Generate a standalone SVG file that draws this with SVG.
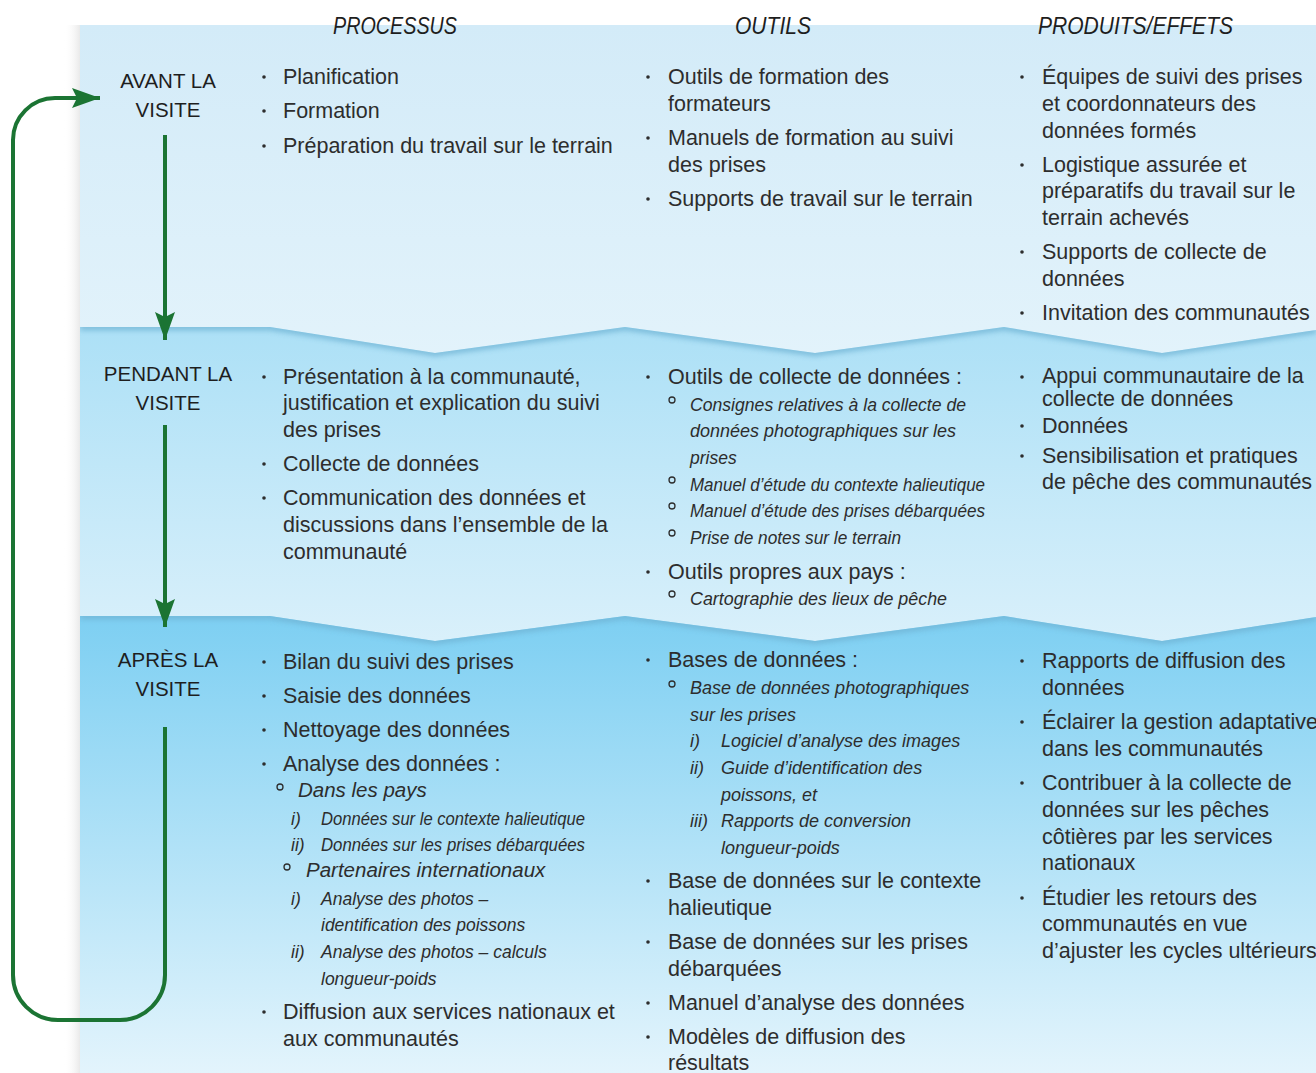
<svg xmlns="http://www.w3.org/2000/svg" width="1316" height="1073" viewBox="0 0 1316 1073">
<defs>
<style>
.t{font-family:"Liberation Sans",Arial,sans-serif;font-size:21.5px;fill:#2d2d2d}
.s{font-family:"Liberation Sans",Arial,sans-serif;font-size:17.5px;font-style:italic;fill:#2d2d2d}
.m{font-family:"Liberation Sans",Arial,sans-serif;font-size:20.5px;font-style:italic;fill:#2d2d2d}
.h{font-family:"Liberation Sans",Arial,sans-serif;font-size:23px;font-style:italic;fill:#1e1e1e}
.l{font-family:"Liberation Sans",Arial,sans-serif;font-size:20.5px;fill:#1e1e1e;text-anchor:middle}
.b{fill:#2d2d2d}
.o{fill:none;stroke:#2d2d2d;stroke-width:1.3}
.g{fill:none;stroke:#1b7433;stroke-width:4}
.edge{fill:none;stroke:#6fb3d4;stroke-width:7;filter:url(#blur);opacity:0.75}
</style>
<linearGradient id="g1" x1="0" y1="0" x2="0" y2="1"><stop offset="0" stop-color="#d3ebf8"/><stop offset="1" stop-color="#e3f3fb"/></linearGradient>
<linearGradient id="g2" x1="0" y1="0" x2="0" y2="1"><stop offset="0" stop-color="#ace0f6"/><stop offset="1" stop-color="#dcf1fb"/></linearGradient>
<linearGradient id="g3" x1="0" y1="0" x2="0" y2="1"><stop offset="0" stop-color="#7dcff2"/><stop offset="1" stop-color="#e3f4fc"/></linearGradient>
<linearGradient id="gl" x1="0" y1="0" x2="1" y2="0"><stop offset="0" stop-color="#ffffff" stop-opacity="0"/><stop offset="1" stop-color="#e9e9e9"/></linearGradient>
<filter id="blur" x="-0.1" y="-0.5" width="1.2" height="2"><feGaussianBlur stdDeviation="2.5"/></filter>
<clipPath id="c2"><path d="M80,327 L270,327 L435,353 L625,327 L815,353 L1004,327 L1162,353 L1316,330 L1316,660 L80,660 Z"/></clipPath>
<clipPath id="c3"><path d="M80,616 L270,616 L435,641 L625,616 L815,641 L1004,616 L1162,641 L1316,617 L1316,1073 L80,1073 Z"/></clipPath>
<marker id="ah" markerUnits="userSpaceOnUse" markerWidth="30" markerHeight="22" refX="28" refY="10" orient="auto"><path d="M0,0 L28,10 L0,20 L5,10 Z" fill="#1b7433"/></marker>
</defs>
<rect x="0" y="0" width="1316" height="1073" fill="#ffffff"/>
<rect x="64" y="25" width="16" height="1048" fill="url(#gl)"/>
<g id="bands">
<rect x="80" y="25" width="1236" height="345" fill="url(#g1)"/>
<path d="M80,327 L270,327 L435,353 L625,327 L815,353 L1004,327 L1162,353 L1316,330 L1316,660 L80,660 Z" fill="url(#g2)"/>
<path class="edge" clip-path="url(#c2)" d="M80,327 L270,327 L435,353 L625,327 L815,353 L1004,327 L1162,353 L1316,330"/>
<path d="M80,616 L270,616 L435,641 L625,616 L815,641 L1004,616 L1162,641 L1316,617 L1316,1073 L80,1073 Z" fill="url(#g3)"/>
<path class="edge" clip-path="url(#c3)" d="M80,616 L270,616 L435,641 L625,616 L815,641 L1004,616 L1162,641 L1316,617"/>
</g>
<g id="headers">
<text class="h" x="333" y="34" textLength="124" lengthAdjust="spacingAndGlyphs">PROCESSUS</text>
<text class="h" x="735" y="34" textLength="76" lengthAdjust="spacingAndGlyphs">OUTILS</text>
<text class="h" x="1038" y="34" textLength="195" lengthAdjust="spacingAndGlyphs">PRODUITS/EFFETS</text>
</g>
<g id="connectors">
<line class="g" x1="165" y1="135" x2="165" y2="340" marker-end="url(#ah)"/>
<line class="g" x1="165" y1="425" x2="165" y2="627" marker-end="url(#ah)"/>
<path class="g" d="M165,727 V975 A45,45 0 0 1 120,1020 H58 A45,45 0 0 1 13,975 V140 A42,42 0 0 1 55,98 H100" marker-end="url(#ah)"/>
</g>
<g id="avant">
<g id="avant-label"><text class="l" x="168" y="88">AVANT LA</text><text class="l" x="168" y="117">VISITE</text></g>
<g id="avant-processus">
<circle class="b" cx="264" cy="77" r="1.8"/><text class="t" x="283" y="84">Planification</text>
<circle class="b" cx="264" cy="111" r="1.8"/><text class="t" x="283" y="118">Formation</text>
<circle class="b" cx="264" cy="146" r="1.8"/><text class="t" x="283" y="153">Préparation du travail sur le terrain</text>
</g>
<g id="avant-outils">
<circle class="b" cx="648" cy="77" r="1.8"/><text class="t" x="668" y="84">Outils de formation des</text>
<text class="t" x="668" y="111">formateurs</text>
<circle class="b" cx="648" cy="138" r="1.8"/><text class="t" x="668" y="145">Manuels de formation au suivi</text>
<text class="t" x="668" y="172">des prises</text>
<circle class="b" cx="648" cy="199" r="1.8"/><text class="t" x="668" y="206">Supports de travail sur le terrain</text>
</g>
<g id="avant-produits">
<circle class="b" cx="1022" cy="77" r="1.8"/><text class="t" x="1042" y="84">Équipes de suivi des prises</text>
<text class="t" x="1042" y="111">et coordonnateurs des</text>
<text class="t" x="1042" y="138">données formés</text>
<circle class="b" cx="1022" cy="165" r="1.8"/><text class="t" x="1042" y="172">Logistique assurée et</text>
<text class="t" x="1042" y="198">préparatifs du travail sur le</text>
<text class="t" x="1042" y="225">terrain achevés</text>
<circle class="b" cx="1022" cy="252" r="1.8"/><text class="t" x="1042" y="259">Supports de collecte de</text>
<text class="t" x="1042" y="286">données</text>
<circle class="b" cx="1022" cy="313" r="1.8"/><text class="t" x="1042" y="320">Invitation des communautés</text>
</g>
</g>
<g id="pendant">
<g id="pendant-label"><text class="l" x="168" y="381">PENDANT LA</text><text class="l" x="168" y="410">VISITE</text></g>
<g id="pendant-processus">
<circle class="b" cx="264" cy="377" r="1.8"/><text class="t" x="283" y="384">Présentation à la communauté,</text>
<text class="t" x="283" y="410">justification et explication du suivi</text>
<text class="t" x="283" y="437">des prises</text>
<circle class="b" cx="264" cy="464" r="1.8"/><text class="t" x="283" y="471">Collecte de données</text>
<circle class="b" cx="264" cy="498" r="1.8"/><text class="t" x="283" y="505">Communication des données et</text>
<text class="t" x="283" y="532">discussions dans l’ensemble de la</text>
<text class="t" x="283" y="559">communauté</text>
</g>
<g id="pendant-outils">
<circle class="b" cx="648" cy="377" r="1.8"/><text class="t" x="668" y="384">Outils de collecte de données :</text>
<circle class="o" cx="672" cy="400" r="3"/><text class="s" x="690" y="411" textLength="276" lengthAdjust="spacingAndGlyphs">Consignes relatives à la collecte de</text>
<text class="s" x="690" y="437" textLength="266" lengthAdjust="spacingAndGlyphs">données photographiques sur les</text>
<text class="s" x="690" y="464">prises</text>
<circle class="o" cx="672" cy="480" r="3"/><text class="s" x="690" y="491" textLength="295" lengthAdjust="spacingAndGlyphs">Manuel d’étude du contexte halieutique</text>
<circle class="o" cx="672" cy="506" r="3"/><text class="s" x="690" y="517" textLength="295" lengthAdjust="spacingAndGlyphs">Manuel d’étude des prises débarquées</text>
<circle class="o" cx="672" cy="533" r="3"/><text class="s" x="690" y="544" textLength="211" lengthAdjust="spacingAndGlyphs">Prise de notes sur le terrain</text>
<circle class="b" cx="648" cy="572" r="1.8"/><text class="t" x="668" y="579">Outils propres aux pays :</text>
<circle class="o" cx="672" cy="594" r="3"/><text class="s" x="690" y="605" textLength="257" lengthAdjust="spacingAndGlyphs">Cartographie des lieux de pêche</text>
</g>
<g id="pendant-produits">
<circle class="b" cx="1022" cy="377" r="1.8"/><text class="t" x="1042" y="383">Appui communautaire de la</text>
<text class="t" x="1042" y="406">collecte de données</text>
<circle class="b" cx="1022" cy="426" r="1.8"/><text class="t" x="1042" y="433">Données</text>
<circle class="b" cx="1022" cy="456" r="1.8"/><text class="t" x="1042" y="463">Sensibilisation et pratiques</text>
<text class="t" x="1042" y="489">de pêche des communautés</text>
</g>
</g>
<g id="apres">
<g id="apres-label"><text class="l" x="168" y="667">APRÈS LA</text><text class="l" x="168" y="696">VISITE</text></g>
<g id="apres-processus">
<circle class="b" cx="264" cy="662" r="1.8"/><text class="t" x="283" y="669">Bilan du suivi des prises</text>
<circle class="b" cx="264" cy="696" r="1.8"/><text class="t" x="283" y="703">Saisie des données</text>
<circle class="b" cx="264" cy="730" r="1.8"/><text class="t" x="283" y="737">Nettoyage des données</text>
<circle class="b" cx="264" cy="764" r="1.8"/><text class="t" x="283" y="771">Analyse des données :</text>
<circle class="o" cx="280" cy="787" r="3"/><text class="m" x="298" y="797">Dans les pays</text>
<text class="s" x="291" y="825">i)</text><text class="s" x="321" y="825" textLength="264" lengthAdjust="spacingAndGlyphs">Données sur le contexte halieutique</text>
<text class="s" x="291" y="851">ii)</text><text class="s" x="321" y="851" textLength="264" lengthAdjust="spacingAndGlyphs">Données sur les prises débarquées</text>
<circle class="o" cx="287" cy="867" r="3"/><text class="m" x="306" y="877">Partenaires internationaux</text>
<text class="s" x="291" y="905">i)</text><text class="s" x="321" y="905">Analyse des photos –</text>
<text class="s" x="321" y="931">identification des poissons</text>
<text class="s" x="291" y="958">ii)</text><text class="s" x="321" y="958">Analyse des photos – calculs</text>
<text class="s" x="321" y="985">longueur-poids</text>
<circle class="b" cx="264" cy="1012" r="1.8"/><text class="t" x="283" y="1019">Diffusion aux services nationaux et</text>
<text class="t" x="283" y="1046">aux communautés</text>
</g>
<g id="apres-outils">
<circle class="b" cx="648" cy="660" r="1.8"/><text class="t" x="668" y="667">Bases de données :</text>
<circle class="o" cx="672" cy="684" r="3"/><text class="s" x="690" y="694" style="font-size:18px">Base de données photographiques</text>
<text class="s" x="690" y="721" style="font-size:18px">sur les prises</text>
<text class="s" x="690" y="747" style="font-size:18px">i)</text><text class="s" x="721" y="747" style="font-size:18px">Logiciel d’analyse des images</text>
<text class="s" x="690" y="774" style="font-size:18px">ii)</text><text class="s" x="721" y="774" style="font-size:18px">Guide d’identification des</text>
<text class="s" x="721" y="801" style="font-size:18px">poissons, et</text>
<text class="s" x="690" y="827" style="font-size:18px">iii)</text><text class="s" x="721" y="827" style="font-size:18px">Rapports de conversion</text>
<text class="s" x="721" y="854" style="font-size:18px">longueur-poids</text>
<circle class="b" cx="648" cy="881" r="1.8"/><text class="t" x="668" y="888">Base de données sur le contexte</text>
<text class="t" x="668" y="915">halieutique</text>
<circle class="b" cx="648" cy="942" r="1.8"/><text class="t" x="668" y="949">Base de données sur les prises</text>
<text class="t" x="668" y="976">débarquées</text>
<circle class="b" cx="648" cy="1003" r="1.8"/><text class="t" x="668" y="1010">Manuel d’analyse des données</text>
<circle class="b" cx="648" cy="1037" r="1.8"/><text class="t" x="668" y="1044">Modèles de diffusion des</text>
<text class="t" x="668" y="1070">résultats</text>
</g>
<g id="apres-produits">
<circle class="b" cx="1022" cy="661" r="1.8"/><text class="t" x="1042" y="668">Rapports de diffusion des</text>
<text class="t" x="1042" y="695">données</text>
<circle class="b" cx="1022" cy="722" r="1.8"/><text class="t" x="1042" y="729">Éclairer la gestion adaptative</text>
<text class="t" x="1042" y="756">dans les communautés</text>
<circle class="b" cx="1022" cy="783" r="1.8"/><text class="t" x="1042" y="790">Contribuer à la collecte de</text>
<text class="t" x="1042" y="817">données sur les pêches</text>
<text class="t" x="1042" y="844">côtières par les services</text>
<text class="t" x="1042" y="870">nationaux</text>
<circle class="b" cx="1022" cy="898" r="1.8"/><text class="t" x="1042" y="905">Étudier les retours des</text>
<text class="t" x="1042" y="931">communautés en vue</text>
<text class="t" x="1042" y="958">d’ajuster les cycles ultérieurs</text>
</g>
</g>
</svg>
